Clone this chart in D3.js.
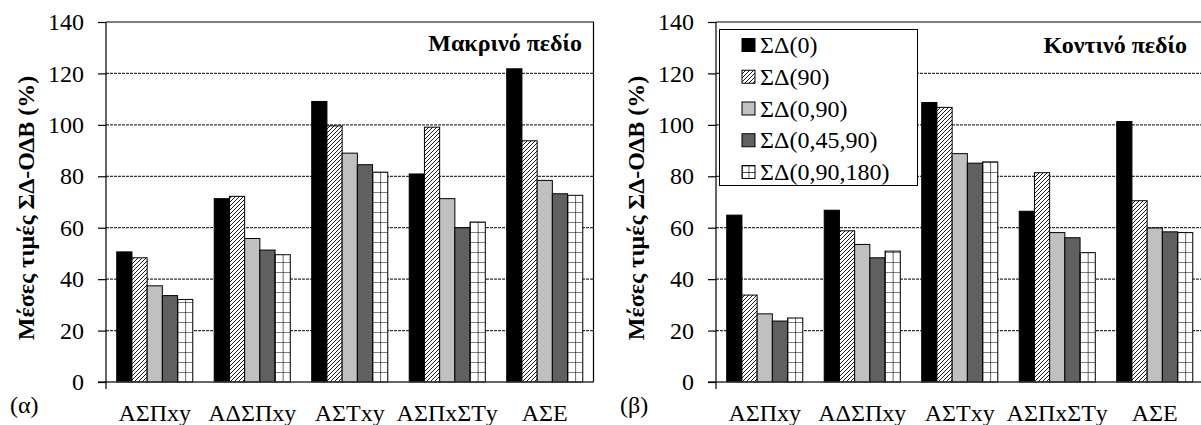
<!DOCTYPE html>
<html>
<head>
<meta charset="utf-8">
<script src="https://cdn.jsdelivr.net/npm/d3@7"></script>
<style>
  html, body { margin: 0; padding: 0; background: #fff; }
  svg text { font-family: "Liberation Serif", Tinos, "Times New Roman", Times, "DejaVu Serif", serif; }
</style>
</head>
<body>
<svg id="chart" width="1201" height="425"></svg>
<script>
// ─── Data ───────────────────────────────────────
const categories = ['ΑΣΠxy', 'ΑΔΣΠxy', 'ΑΣΤxy', 'ΑΣΠxΣΤy', 'ΑΣΕ'];
const seriesNames = ['ΣΔ(0)', 'ΣΔ(90)', 'ΣΔ(0,90)', 'ΣΔ(0,45,90)', 'ΣΔ(0,90,180)'];
const yTicks = [0, 20, 40, 60, 80, 100, 120, 140];

// (α) far field
const farSD0      = [50.6, 71.3, 109.1, 80.9, 121.8];
const farSD90     = [48.3, 72.2,  99.6, 99.1,  93.8];
const farSD0_90   = [37.4, 55.8,  89.0, 71.3,  78.4];
const farSD0_45   = [33.6, 51.3,  84.5, 60.0,  73.2];
const farSD0_180  = [32.1, 49.5,  81.6, 62.2,  72.6];

// (β) near field
const nearSD0     = [64.9, 66.8, 108.7, 66.4, 101.3];
const nearSD90    = [33.8, 58.8, 106.8, 81.4,  70.5];
const nearSD0_90  = [26.5, 53.5,  88.8, 58.1,  59.9];
const nearSD0_45  = [23.7, 48.3,  85.1, 56.1,  58.4];
const nearSD0_180 = [24.9, 50.9,  85.6, 50.3,  58.1];

const farSeries  = [farSD0, farSD90, farSD0_90, farSD0_45, farSD0_180];
const nearSeries = [nearSD0, nearSD90, nearSD0_90, nearSD0_45, nearSD0_180];

const FONT = '"Liberation Serif", Tinos, "Times New Roman", Times, "DejaVu Serif", serif';

// ─── Setup ──────────────────────────────────────
const svg = d3.select('#chart');
const defs = svg.append('defs');

// diagonal hatch
const hatch = defs.append('pattern')
  .attr('id', 'hatch').attr('patternUnits', 'userSpaceOnUse')
  .attr('width', 4).attr('height', 4);
hatch.append('rect').attr('width', 4).attr('height', 4).attr('fill', '#fff');
hatch.append('path')
  .attr('d', 'M-1,1 L1,-1 M0,4 L4,0 M3,5 L5,3')
  .attr('stroke', '#000').attr('stroke-width', 0.9);

let gridPatId = 0;
function gridPattern(x, y, w, h) {
  const id = 'grid' + (gridPatId++);
  const p = defs.append('pattern')
    .attr('id', id).attr('patternUnits', 'userSpaceOnUse')
    .attr('x', x).attr('y', y).attr('width', w).attr('height', h);
  p.append('rect').attr('width', w).attr('height', h).attr('fill', '#fff');
  p.append('path')
    .attr('d', `M0,0 H${w} M0,0 V${h}`)
    .attr('stroke', '#000').attr('stroke-width', 1.2);
  return `url(#${id})`;
}

const solidFills = ['#000000', 'url(#hatch)', '#c0c0c0', '#606060', null];

const H = { top: 22, bottom: 382, width: 487.5 };
const y = d3.scaleLinear().domain([0, 140]).range([H.bottom, H.top]);

function drawPanel(x0, series, title, titleX, titleY, tag, withLegend) {
  const g = svg.append('g').attr('font-family', FONT);
  const x = d3.scaleBand().domain(categories)
    .range([x0, x0 + H.width]).paddingInner(0.22).paddingOuter(0.11);
  const xs = d3.scaleBand().domain(d3.range(seriesNames.length))
    .range([0, x.bandwidth()]);

  // gridlines
  g.selectAll('.grid')
    .data(yTicks.filter(t => t > 0 && t < 140))
    .enter().append('line')
      .attr('x1', x0).attr('x2', x0 + H.width)
      .attr('y1', d => y(d)).attr('y2', d => y(d))
      .attr('stroke', '#333').attr('stroke-width', 1.2)
      .attr('stroke-dasharray', '3,1');

  // frame top/right
  g.append('path')
    .attr('d', `M${x0},${H.top} H${x0 + H.width} V${H.bottom}`)
    .attr('fill', 'none').attr('stroke', '#000').attr('stroke-width', 1.2);

  // bars
  series.forEach((vals, si) => {
    g.selectAll('.bar' + si)
      .data(vals)
      .enter().append('rect')
        .attr('x', (d, i) => x(categories[i]) + xs(si))
        .attr('y', d => y(d))
        .attr('width', xs.bandwidth())
        .attr('height', d => y(0) - y(d))
        .attr('fill', (d, i) => solidFills[si] ||
          gridPattern(x(categories[i]) + xs(si), y(0), xs.bandwidth() / 2, 10))
        .attr('stroke', '#000').attr('stroke-width', 1);
  });

  // x axis (zero line)
  g.append('line')
    .attr('x1', x0 - 8).attr('x2', x0 + H.width)
    .attr('y1', y(0)).attr('y2', y(0))
    .attr('stroke', '#333').attr('stroke-width', 1.5);

  // y axis
  const ya = g.append('g')
    .attr('transform', `translate(${x0},0)`)
    .call(d3.axisLeft(y).tickValues(yTicks).tickSize(8).tickPadding(14));
  ya.attr('font-family', FONT).attr('font-size', 24);
  ya.select('.domain').attr('d', `M0,${H.top}V${H.bottom + 7}`).attr('stroke-width', 1.2);
  ya.selectAll('line').attr('stroke-width', 1.2);
  ya.selectAll('text').attr('fill', '#000');

  // category labels
  g.selectAll('.cat')
    .data(categories)
    .enter().append('text')
      .attr('x', d => x(d) + x.bandwidth() / 2)
      .attr('y', 421)
      .attr('text-anchor', 'middle')
      .attr('font-size', 24)
      .text(d => d);

  // y label
  g.append('text')
    .attr('transform', `translate(${x0 - 72},208) rotate(-90)`)
    .attr('text-anchor', 'middle')
    .attr('font-size', 24).attr('font-weight', 'bold')
    .text('Μέσες τιμές ΣΔ-ΟΔΒ (%)');

  // panel title
  g.append('text')
    .attr('x', titleX).attr('y', titleY)
    .attr('text-anchor', 'end')
    .attr('font-size', 24).attr('font-weight', 'bold')
    .text(title);

  // panel tag
  g.append('text')
    .attr('x', x0 - 96).attr('y', 413)
    .attr('font-size', 24)
    .text(tag);

  if (withLegend) {
    const lg = g.append('g');
    lg.append('rect')
      .attr('x', x0 + 3.5).attr('y', 29.5)
      .attr('width', 198).attr('height', 156)
      .attr('fill', '#fff').attr('stroke', '#000').attr('stroke-width', 1);
    const rowY = d3.scalePoint().domain(seriesNames).range([45, 172]);
    seriesNames.forEach((name, si) => {
      const cy = rowY(name);
      const sx = x0 + 26, sy = cy - 6.5;
      lg.append('rect')
        .attr('x', sx).attr('y', sy).attr('width', 13).attr('height', 13)
        .attr('fill', solidFills[si] || gridPattern(sx, sy, 6.5, 6.5))
        .attr('stroke', '#000').attr('stroke-width', 1);
      lg.append('text')
        .attr('x', x0 + 44).attr('y', cy + 8)
        .attr('font-size', 24)
        .text(name);
    });
  }
}

drawPanel(106, farSeries,  'Μακρινό πεδίο', 582, 51, '(α)', false);
drawPanel(716, nearSeries, 'Κοντινό πεδίο', 1187, 53, '(β)', true);
</script>
</body>
</html>
